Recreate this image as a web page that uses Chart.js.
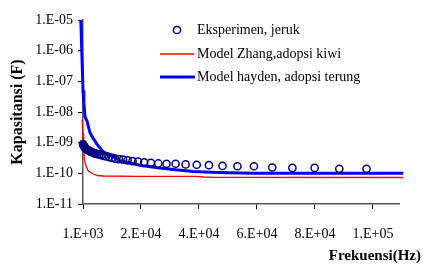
<!DOCTYPE html>
<html>
<head>
<meta charset="utf-8">
<script src="https://cdn.jsdelivr.net/npm/chart.js@4.4.1/dist/chart.umd.min.js"></script>
<style>
  html, body { margin: 0; padding: 0; background: #fff; }
  #wrap { width: 428px; height: 265px; }
</style>
</head>
<body>
<div id="wrap"><canvas id="kapChart" width="428" height="265"></canvas></div>
<script>
// data (frekuensi Hz, kapasitansi F)
var expFreq = [1000, 1105, 1221, 1349, 1491, 1647, 1820, 2012, 2223, 2456, 2714, 2999, 3314, 3662, 4047, 4472,
    4941, 5460, 6033, 6667, 7367, 8140, 8995, 9940, 10984, 12137, 13411, 14820, 16376, 18095, 19995, 22095,
    24415, 26978, 29811, 32942, 36400, 40222, 44446, 49113, 54270, 59968, 66265, 73223, 80911, 89407, 98795];
var expCap = [9.0e-10, 8.5e-10, 8.1e-10, 7.7e-10, 7.3e-10, 7.0e-10, 6.7e-10, 6.4e-10, 6.1e-10, 5.9e-10, 5.7e-10,
    5.5e-10, 5.3e-10, 5.1e-10, 4.9e-10, 4.7e-10, 4.5e-10, 4.4e-10, 4.2e-10, 4.1e-10, 3.9e-10, 3.7e-10, 3.55e-10,
    3.4e-10, 3.2e-10, 3.0e-10, 2.9e-10, 2.8e-10, 2.65e-10, 2.5e-10, 2.4e-10, 2.3e-10, 2.2e-10, 2.1e-10, 2.05e-10,
    2.05e-10, 1.95e-10, 1.9e-10, 1.85e-10, 1.75e-10, 1.7e-10, 1.7e-10, 1.55e-10, 1.5e-10, 1.5e-10, 1.4e-10, 1.4e-10];

var zhangFreq = [700, 1000, 1250, 1500, 2000, 2700, 3400, 4500, 6000, 8000, 20000, 40000, 42500, 46000, 111500];
var zhangCap = [5.5e-9, 2e-9, 6e-10, 2.8e-10, 1.8e-10, 1.25e-10, 1.1e-10, 9.5e-11, 8.5e-11, 8.2e-11,
    8e-11, 8e-11, 7.6e-11, 7.4e-11, 7.3e-11];

var haydenFreq = [250, 1000, 1300, 1700, 2400, 3400, 4500, 5800, 7000, 8000, 10300, 13800, 17000,
    21000, 27500, 33000, 39000, 45000, 51000, 60000, 111500];
var haydenCap = [1e-5, 5e-8, 2e-8, 7e-9, 5e-9, 2.1e-9, 1.4e-9, 9e-10, 6.5e-10, 5e-10, 4e-10,
    2.6e-10, 2.2e-10, 1.8e-10, 1.5e-10, 1.3e-10, 1.15e-10, 1.08e-10, 1.04e-10, 1.0e-10, 1.0e-10];

var seriesNames = ["Eksperimen, jeruk", "Model Zhang,adopsi kiwi", "Model hayden, adopsi terung"];

var xTickValues = [1000, 21000, 41000, 61000, 81000, 101000];
var xTickLabels = ["1.E+03", "2.E+04", "4.E+04", "6.E+04", "8.E+04", "1.E+05"];
var yTickValues = [1e-11, 1e-10, 1e-9, 1e-8, 1e-7, 1e-6, 1e-5];
var yTickLabels = ["1.E-11", "1.E-10", "1.E-09", "1.E-08", "1.E-07", "1.E-06", "1.E-05"];

function toPoints(xs, ys) {
    return xs.map(function(x, i) { return { x: x, y: ys[i] }; });
}

var serif = "'Liberation Serif', 'Times New Roman', serif";

// judul sumbu dan legenda digambar sendiri
var extras = {
    id: "extras",
    afterDraw: function(chart) {
        var ctx = chart.ctx;
        ctx.save();
        ctx.fillStyle = "#000";
        ctx.font = "bold 16px " + serif;
        ctx.textAlign = "center";
        ctx.textBaseline = "middle";
        ctx.translate(18, 112);
        ctx.rotate(-Math.PI / 2);
        ctx.fillText("Kapasitansi (F)", 0, 0);
        ctx.restore();

        ctx.save();
        ctx.fillStyle = "#000";
        ctx.font = "bold 15px " + serif;
        ctx.textAlign = "right";
        ctx.textBaseline = "middle";
        ctx.fillText("Frekuensi(Hz)", 421, 256);
        ctx.restore();

        // legenda
        var rows = [30, 54, 77];
        ctx.save();
        ctx.strokeStyle = "#000080";
        ctx.lineWidth = 1.5;
        ctx.beginPath();
        ctx.arc(177, rows[0], 3.6, 0, Math.PI * 2);
        ctx.stroke();
        ctx.strokeStyle = "#ff0000";
        ctx.lineWidth = 1.3;
        ctx.beginPath();
        ctx.moveTo(160, rows[1]);
        ctx.lineTo(194, rows[1]);
        ctx.stroke();
        ctx.strokeStyle = "#0000ff";
        ctx.lineWidth = 3;
        ctx.beginPath();
        ctx.moveTo(160, rows[2]);
        ctx.lineTo(195, rows[2]);
        ctx.stroke();
        ctx.fillStyle = "#000";
        ctx.font = "14px " + serif;
        ctx.textAlign = "left";
        ctx.textBaseline = "middle";
        seriesNames.forEach(function(name, i) {
            ctx.fillText(name, 197, rows[i]);
        });
        ctx.restore();
    }
};

var ctx = document.getElementById("kapChart").getContext("2d");
var chart = new Chart(ctx, {
    type: "scatter",
    data: {
        datasets: [{
            label: seriesNames[0],
            data: toPoints(expFreq, expCap),
            showLine: false,
            pointStyle: "circle",
            pointRadius: 3.6,
            pointBorderWidth: 1.5,
            pointBorderColor: "#000080",
            pointBackgroundColor: "rgba(255,255,255,0)",
            clip: false
        }, {
            label: seriesNames[1],
            data: toPoints(zhangFreq, zhangCap),
            showLine: true,
            borderColor: "#ff0000",
            borderWidth: 1.3,
            pointRadius: 0,
            tension: 0,
            clip: false
        }, {
            label: seriesNames[2],
            data: toPoints(haydenFreq, haydenCap),
            showLine: true,
            borderColor: "#0000ff",
            borderWidth: 3,
            pointRadius: 0,
            tension: 0,
            clip: false
        }]
    },
    options: {
        responsive: false,
        animation: false,
        devicePixelRatio: 1,
        layout: { padding: { top: 20, right: 29, left: 0, bottom: 0 } },
        plugins: {
            legend: { display: false },
            tooltip: { enabled: false }
        },
        scales: {
            x: {
                type: "linear",
                min: 1000,
                max: 110000,
                afterBuildTicks: function(s) {
                    s.ticks = xTickValues.map(function(v) { return { value: v }; });
                },
                afterFit: function(s) { s.height = 61; },
                ticks: {
                    autoSkip: false,
                    maxRotation: 0,
                    padding: 17,
                    color: "#000",
                    font: { family: serif, size: 14 },
                    callback: function(v, i) { return xTickLabels[i]; }
                },
                grid: { drawOnChartArea: false, tickLength: 5, color: "#000", lineWidth: 1 },
                border: { color: "#555", width: 1.5 }
            },
            y: {
                type: "logarithmic",
                min: 1e-11,
                max: 1e-5,
                afterBuildTicks: function(s) {
                    s.ticks = yTickValues.map(function(v) { return { value: v }; });
                },
                afterFit: function(s) { s.width = 83; },
                ticks: {
                    autoSkip: false,
                    padding: 5,
                    color: "#000",
                    font: { family: serif, size: 14 },
                    callback: function(v, i) { return yTickLabels[i]; }
                },
                grid: { drawOnChartArea: false, tickLength: 5, color: "#000", lineWidth: 1 },
                border: { color: "#555", width: 1.5 }
            }
        }
    },
    plugins: [extras]
});
</script>
</body>
</html>
